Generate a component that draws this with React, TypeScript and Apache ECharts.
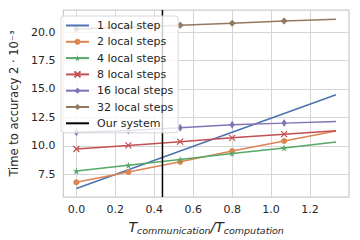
import React, { useEffect, useRef } from "react";
import * as echarts from "echarts";

const ratios = [0, 0.267, 0.533, 0.8, 1.067, 1.333];
const oneStep = [6.26, 7.9, 9.55, 11.2, 12.84, 14.49];
const twoSteps = [6.8, 7.7, 8.6, 9.55, 10.43, 11.3];
const fourSteps = [7.79, 8.29, 8.8, 9.33, 9.82, 10.34];
const eightSteps = [9.73, 10.04, 10.37, 10.71, 11.03, 11.33];
const sixteenSteps = [11.2, 11.35, 11.6, 11.85, 12.0, 12.14];
const thirtyTwoSteps = [20.26, 20.43, 20.6, 20.78, 20.97, 21.13];
const ourSystemX = 0.442;
const xTicks = [0, 0.2, 0.4, 0.6, 0.8, 1.0, 1.2];
const yTicks = [7.5, 10, 12.5, 15, 17.5, 20];
const X_MIN = -0.0667;
const X_MAX = 1.4;
const Y_MIN = 5.5;
const Y_MAX = 21.94;

const STAR =
  "path://M10,0L12.23,6.93L19.51,6.91L13.61,11.17L15.88,18.09L10,13.8L4.12,18.09L6.39,11.17L0.49,6.91L7.77,6.93Z";
const CROSS = "path://M0,0L10,10M10,0L0,10";
const THIN_DIAMOND = "path://M5,0L10,10L5,20L0,10Z";
// practically invisible marker (keeps legend icon a plain line)
const NO_MARK = "path://M0,0M10,10M5,5L5.01,5L5,5.01Z";

export default function App() {
  const ref = useRef<HTMLDivElement>(null);
  useEffect(() => {
    document.body.style.margin = "0";
    if (!ref.current) return;
    const chart = echarts.init(ref.current, undefined, { renderer: "svg" });
    const font = "DejaVu Sans";
    const mk = (
      name: string,
      vals: number[],
      color: string,
      symbol: string,
      size: number | number[],
      extra: any = {}
    ) => ({
      name,
      type: "line",
      data: ratios.map((x, i) =>
        i === ratios.length - 1 || symbol === NO_MARK
          ? { value: [x, vals[i]], symbol: "none" }
          : { value: [x, vals[i]] }
      ),
      symbol,
      symbolSize: size,
      showSymbol: symbol !== NO_MARK,
      lineStyle: { color, width: 1.5 },
      itemStyle: { color, ...extra },
      emphasis: { disabled: true },
      z: 3,
    });
    chart.setOption({
      animation: false,
      backgroundColor: "#fff",
      textStyle: { fontFamily: font },
      grid: {
        left: 56,
        right: 11,
        top: 10,
        bottom: 41,
        show: true,
        borderColor: "#cccccc",
        borderWidth: 1.25,
        backgroundColor: "#fff",
      },
      xAxis: {
        type: "value",
        min: X_MIN,
        max: X_MAX,
        axisLine: { show: false },
        axisTick: { show: false, customValues: xTicks },
        axisLabel: {
          customValues: xTicks,
          formatter: (v: number) => v.toFixed(1),
          color: "#262626",
          fontSize: 11,
          fontFamily: font,
          margin: 7,
        },
        splitLine: { show: true, lineStyle: { color: "#d5d5d5", width: 1 } },
        name: "{t|T}{s|communication}{t|/T}{s|computation}",
        nameLocation: "middle",
        nameGap: 17,
        nameTextStyle: {
          rich: {
            t: {
              fontSize: 14,
              fontStyle: "italic",
              fontFamily: font,
              color: "#262626",
              lineHeight: 16,
            },
            s: {
              fontSize: 9.5,
              fontStyle: "italic",
              fontFamily: font,
              color: "#262626",
              verticalAlign: "bottom",
            },
          },
        },
      },
      yAxis: {
        type: "value",
        min: Y_MIN,
        max: Y_MAX,
        axisLine: { show: false },
        axisTick: { show: false, customValues: yTicks },
        axisLabel: {
          customValues: yTicks,
          formatter: (v: number) => v.toFixed(1),
          color: "#262626",
          fontSize: 11,
          fontFamily: font,
          margin: 8,
        },
        splitLine: { show: true, lineStyle: { color: "#d5d5d5", width: 1 } },
        name: "Time to accuracy 2 · 10\u207B\u00B3",
        nameLocation: "middle",
        nameGap: 37,
        nameTextStyle: { fontSize: 11.5, color: "#262626", fontFamily: font },
      },
      legend: {
        left: 61,
        top: 16,
        orient: "vertical",
        itemWidth: 23,
        itemHeight: 7.5,
        itemGap: 5.3,
        padding: [4, 5, 4, 4],
        backgroundColor: "rgba(255,255,255,0.8)",
        borderColor: "#d8d8d8",
        borderWidth: 1,
        borderRadius: 3,
        textStyle: {
          fontSize: 11,
          lineHeight: 11,
          color: "#262626",
          fontFamily: font,
          padding: [0, 0, 0, 3],
        },
        data: [
          "1 local step",
          "2 local steps",
          "4 local steps",
          "8 local steps",
          "16 local steps",
          "32 local steps",
          "Our system",
        ],
      },
      series: [
        mk("1 local step", oneStep, "#4c72b0", NO_MARK, 0),
        mk("2 local steps", twoSteps, "#dd8452", "circle", 6),
        mk("4 local steps", fourSteps, "#55a868", STAR, 7),
        mk("8 local steps", eightSteps, "#c44e52", CROSS, 6, {
          borderColor: "#c44e52",
          borderWidth: 1.2,
        }),
        mk("16 local steps", sixteenSteps, "#8172b3", THIN_DIAMOND, [5, 8]),
        mk("32 local steps", thirtyTwoSteps, "#937860", "diamond", 7),
        {
          name: "Our system",
          type: "line",
          data: [
            { value: [ourSystemX, Y_MIN], symbol: "none" },
            { value: [ourSystemX, Y_MAX], symbol: "none" },
          ],
          symbol: NO_MARK,
          showSymbol: false,
          lineStyle: { color: "#000", width: 1.5 },
          itemStyle: { color: "#000" },
          emphasis: { disabled: true },
          z: 3,
        },
      ],
    });
    return () => chart.dispose();
  }, []);
  return <div ref={ref} style={{ width: 360, height: 240 }} />;
}
